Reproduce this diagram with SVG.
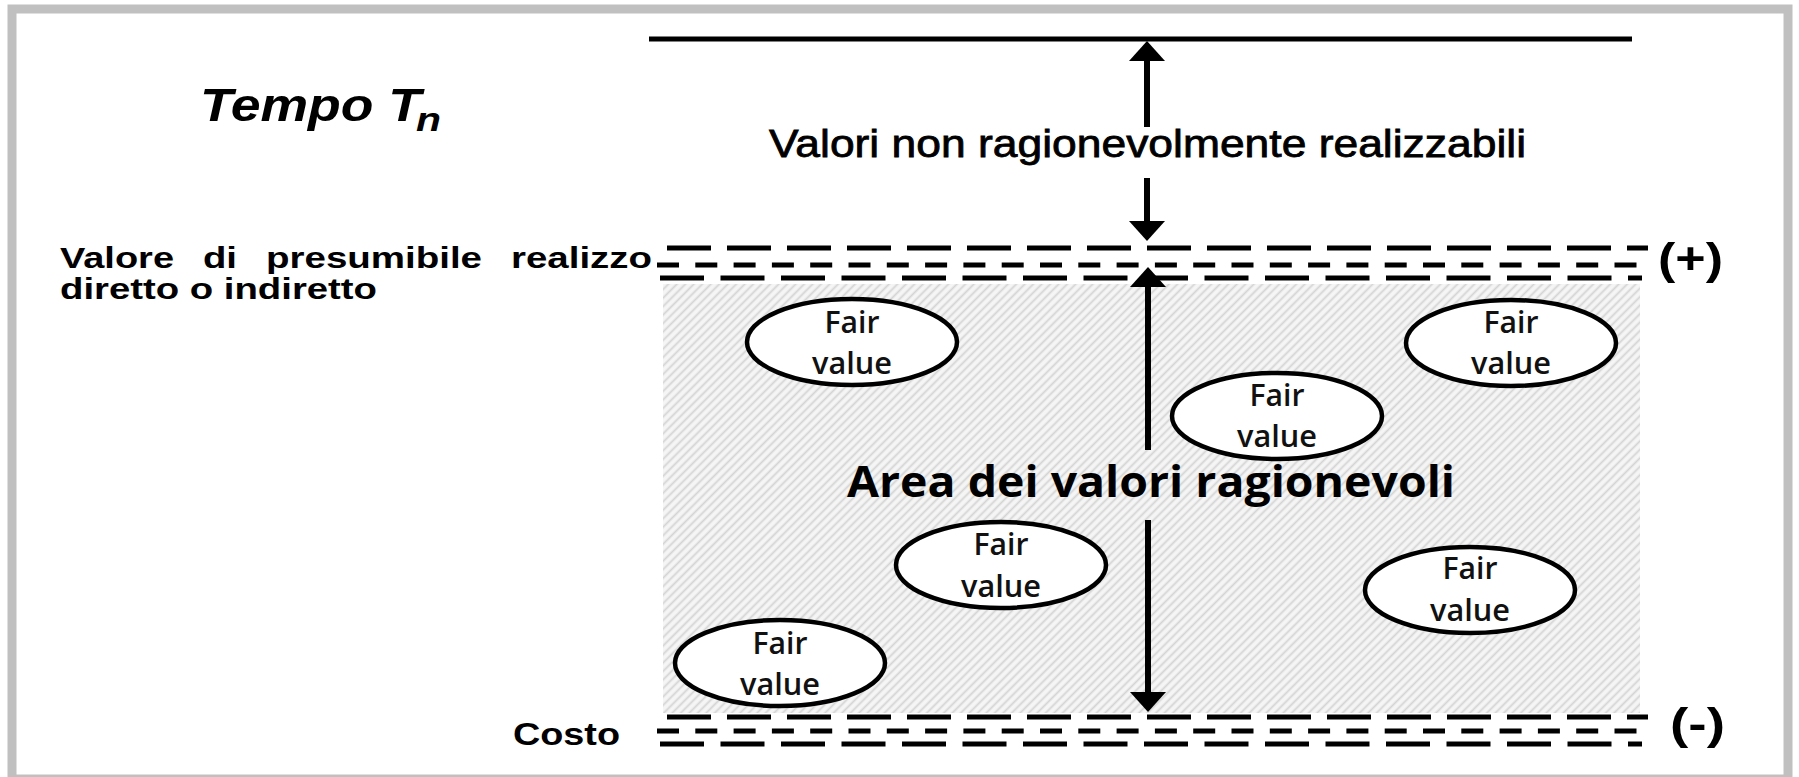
<svg xmlns="http://www.w3.org/2000/svg" width="1799" height="777" viewBox="0 0 1799 777">
<style>
.lbl{font-family:"Liberation Sans",Arial,sans-serif;fill:#000}
.b{font-weight:bold}
.fv{font-family:"Open Sans","Liberation Sans",sans-serif;font-size:30px;font-weight:600;fill:#111;text-anchor:middle}
.ell{fill:#fff;stroke:#000;stroke-width:4.5}
.d1{stroke:#000;stroke-width:5;stroke-dasharray:44 16;fill:none}
.d2{stroke:#000;stroke-width:5;stroke-dasharray:22 16.3;fill:none}
.d3{stroke:#000;stroke-width:5;stroke-dasharray:44 16.5;fill:none}
.arr{stroke:#000;stroke-width:6;fill:none}
</style>
<defs>
<pattern id="hatch" patternUnits="userSpaceOnUse" width="6" height="6" patternTransform="rotate(45)">
<rect width="6" height="6" fill="#f5f5f5"/>
<line x1="1.5" y1="0" x2="1.5" y2="6" stroke="#d4d4d4" stroke-width="1.8"/>
</pattern>
<marker id="ah" markerUnits="userSpaceOnUse" markerWidth="22" markerHeight="36" refX="10" refY="18" orient="auto">
<path d="M0,0 L20,18 L0,36 Z" fill="#000"/>
</marker>
</defs>
<rect x="12" y="9" width="1776" height="770" fill="#fff" stroke="#c0c0c0" stroke-width="9"/>
<g id="area">
<rect x="663" y="284" width="977" height="429" fill="url(#hatch)"/>
</g>
<g id="top-line">
<line x1="649" y1="39" x2="1632" y2="39" stroke="#000" stroke-width="5"/>
</g>
<g id="upper-level">
<line class="d1" x1="667" y1="248" x2="1648" y2="248"/>
<line class="d2" x1="657" y1="265" x2="1638" y2="265"/>
<line class="d3" x1="660" y1="278" x2="1642" y2="278"/>
</g>
<g id="lower-level">
<line class="d1" x1="667" y1="717" x2="1648" y2="717"/>
<line class="d2" x1="657" y1="731" x2="1638" y2="731"/>
<line class="d3" x1="660" y1="744" x2="1642" y2="744"/>
</g>
<g id="connectors">
<line class="arr" x1="1147" y1="127" x2="1147" y2="51" marker-end="url(#ah)"/>
<line class="arr" x1="1147" y1="178" x2="1147" y2="231" marker-end="url(#ah)"/>
<line class="arr" x1="1148" y1="450" x2="1148" y2="277" marker-end="url(#ah)"/>
<line class="arr" x1="1148" y1="520" x2="1148" y2="702" marker-end="url(#ah)"/>
</g>
<g id="title">
<text class="lbl b" x="200" y="121" font-size="47" font-style="italic" textLength="221" lengthAdjust="spacingAndGlyphs">Tempo T</text>
<text class="lbl b" x="416" y="131" font-size="34" font-style="italic" textLength="25" lengthAdjust="spacingAndGlyphs">n</text>
</g>
<g id="label-top">
<text class="lbl" x="769" y="157" font-size="39" stroke="#000" stroke-width="0.8" textLength="757" lengthAdjust="spacingAndGlyphs">Valori non ragionevolmente realizzabili</text>
</g>
<g id="label-realizzo">
<text class="lbl b" x="60" y="268" font-size="30" textLength="114" lengthAdjust="spacingAndGlyphs">Valore</text>
<text class="lbl b" x="203" y="268" font-size="30" textLength="34" lengthAdjust="spacingAndGlyphs">di</text>
<text class="lbl b" x="266" y="268" font-size="30" textLength="216" lengthAdjust="spacingAndGlyphs">presumibile</text>
<text class="lbl b" x="511" y="268" font-size="30" textLength="141" lengthAdjust="spacingAndGlyphs">realizzo</text>
<text class="lbl b" x="60" y="299" font-size="30" textLength="317" lengthAdjust="spacingAndGlyphs">diretto o indiretto</text>
</g>
<g id="label-costo">
<text class="lbl b" x="513" y="745" font-size="31" textLength="107" lengthAdjust="spacingAndGlyphs">Costo</text>
</g>
<g id="plus">
<text class="lbl b" x="1658" y="274" font-size="45" textLength="65" lengthAdjust="spacingAndGlyphs">(+)</text>
</g>
<g id="minus">
<text class="lbl b" x="1670" y="739" font-size="45" textLength="55" lengthAdjust="spacingAndGlyphs">(-)</text>
</g>
<g id="area-label">
<text x="847" y="497" font-family="'Open Sans','Liberation Sans',sans-serif" font-weight="bold" font-size="43" textLength="608" lengthAdjust="spacingAndGlyphs">Area dei valori ragionevoli</text>
</g>
<g id="fv1">
<ellipse class="ell" cx="852" cy="342" rx="105" ry="43"/>
<text class="fv" x="852" y="333" textLength="55" lengthAdjust="spacingAndGlyphs">Fair</text>
<text class="fv" x="852" y="374" textLength="80" lengthAdjust="spacingAndGlyphs">value</text>
</g>
<g id="fv2">
<ellipse class="ell" cx="1511" cy="343" rx="105" ry="43"/>
<text class="fv" x="1511" y="333" textLength="55" lengthAdjust="spacingAndGlyphs">Fair</text>
<text class="fv" x="1511" y="374" textLength="80" lengthAdjust="spacingAndGlyphs">value</text>
</g>
<g id="fv3">
<ellipse class="ell" cx="1277" cy="416" rx="105" ry="43"/>
<text class="fv" x="1277" y="406" textLength="55" lengthAdjust="spacingAndGlyphs">Fair</text>
<text class="fv" x="1277" y="447" textLength="80" lengthAdjust="spacingAndGlyphs">value</text>
</g>
<g id="fv4">
<ellipse class="ell" cx="1001" cy="565" rx="105" ry="43"/>
<text class="fv" x="1001" y="555" textLength="55" lengthAdjust="spacingAndGlyphs">Fair</text>
<text class="fv" x="1001" y="597" textLength="80" lengthAdjust="spacingAndGlyphs">value</text>
</g>
<g id="fv5">
<ellipse class="ell" cx="1470" cy="590" rx="105" ry="43"/>
<text class="fv" x="1470" y="579" textLength="55" lengthAdjust="spacingAndGlyphs">Fair</text>
<text class="fv" x="1470" y="621" textLength="80" lengthAdjust="spacingAndGlyphs">value</text>
</g>
<g id="fv6">
<ellipse class="ell" cx="780" cy="663" rx="105" ry="43"/>
<text class="fv" x="780" y="654" textLength="55" lengthAdjust="spacingAndGlyphs">Fair</text>
<text class="fv" x="780" y="695" textLength="80" lengthAdjust="spacingAndGlyphs">value</text>
</g>
</svg>
